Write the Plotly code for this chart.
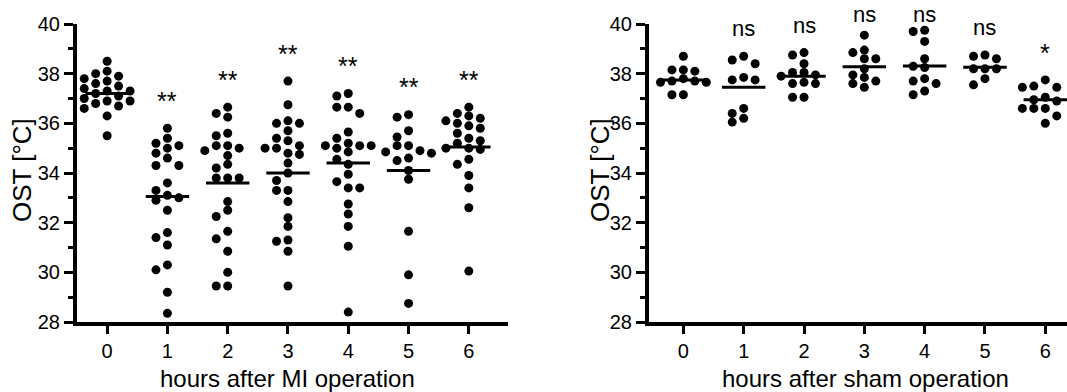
import plotly.graph_objects as go

hours = [0, 1, 2, 3, 4, 5, 6]
tick_labels = ["0", "1", "2", "3", "4", "5", "6"]

mi_0 = [38.5, 38.1, 38.0, 37.9, 37.8, 37.7, 37.6, 37.5, 37.4, 37.3, 37.3, 37.2, 37.2, 37.1, 37.0, 36.9, 36.9, 36.8, 36.7, 36.6, 36.6, 36.3, 35.5]
mi_1 = [35.8, 35.4, 35.2, 35.1, 35.0, 34.8, 34.6, 34.3, 34.3, 33.6, 33.3, 33.1, 33.0, 32.9, 32.5, 31.6, 31.4, 31.1, 30.3, 30.1, 29.2, 28.35]
mi_2 = [36.65, 36.4, 36.25, 35.6, 35.5, 35.1, 35.0, 35.1, 34.9, 34.7, 34.35, 34.2, 33.8, 33.8, 33.8, 32.85, 32.5, 32.25, 31.65, 31.35, 30.85, 30.0, 29.45, 29.45]
mi_3 = [37.7, 36.75, 36.1, 36.0, 36.0, 35.7, 35.4, 35.3, 35.1, 35.0, 35.0, 34.8, 34.75, 34.4, 34.0, 33.7, 33.3, 33.3, 32.85, 32.2, 31.85, 31.3, 31.25, 30.85, 29.45]
mi_4 = [37.2, 37.1, 36.65, 36.65, 36.4, 35.65, 35.4, 35.2, 35.1, 35.1, 35.0, 35.1, 34.85, 34.55, 34.35, 33.95, 33.65, 33.4, 33.4, 32.75, 32.35, 31.85, 31.05, 28.4]
mi_5 = [36.35, 36.25, 35.7, 35.45, 35.1, 35.1, 34.9, 34.85, 34.8, 34.6, 34.5, 34.1, 33.75, 31.65, 29.9, 28.75]
mi_6 = [36.65, 36.4, 36.3, 36.2, 36.1, 36.0, 35.9, 35.8, 35.6, 35.4, 35.3, 35.2, 35.0, 35.0, 34.95, 34.55, 34.35, 33.9, 33.4, 32.6, 30.05]
mi_median = [37.2, 33.05, 33.6, 34.0, 34.4, 34.1, 35.05]
mi_sig = ["", "**", "**", "**", "**", "**", "**"]

sham_0 = [38.7, 38.15, 38.1, 38.15, 37.8, 37.7, 37.65, 37.65, 37.7, 37.15, 37.15]
sham_1 = [38.7, 38.55, 38.4, 37.85, 37.75, 37.75, 36.6, 36.4, 36.2, 36.05]
sham_2 = [38.85, 38.75, 38.4, 38.05, 38.05, 37.95, 37.9, 37.6, 37.65, 37.6, 37.05, 37.05]
sham_3 = [39.55, 38.95, 38.85, 38.6, 38.6, 38.2, 37.95, 37.85, 37.7, 37.6, 37.45]
sham_4 = [39.75, 39.7, 39.3, 38.6, 38.3, 38.25, 37.8, 37.7, 37.6, 37.3, 37.15]
sham_5 = [38.75, 38.7, 38.6, 38.2, 38.2, 38.2, 37.8, 37.55]
sham_6 = [37.75, 37.5, 37.45, 37.45, 37.05, 36.95, 36.9, 36.6, 36.6, 36.6, 36.3, 36.3, 36.0]
sham_median = [37.75, 37.45, 37.9, 38.28, 38.31, 38.26, 36.95]
sham_sig = ["", "ns", "ns", "ns", "ns", "ns", "*"]

mi_groups = [mi_0, mi_1, mi_2, mi_3, mi_4, mi_5, mi_6]
sham_groups = [sham_0, sham_1, sham_2, sham_3, sham_4, sham_5, sham_6]

W, H = 1067, 392
Y0, Y1 = 28, 40
FONT = "Liberation Sans, Arial, sans-serif"
PX_X = 60.3      # px per x unit
PX_Y = 24.85     # px per degree
DIAM = 8.0
STEP = 0.19
LABEL_GAP = 1.1   # degrees above highest dot
LABEL_CAP = 40.4  # keep labels inside the page


def swarm(vals, center):
    placed = []
    xs = [None] * len(vals)
    order = sorted(range(len(vals)), key=lambda i: -vals[i])
    cands = [0]
    for k in range(1, 8):
        cands += [-k * STEP, k * STEP]
    for i in order:
        v = vals[i]
        for c in cands:
            ok = all(not (abs(c - o) * PX_X < DIAM and abs(v - w) * PX_Y < DIAM) for o, w in placed)
            if ok:
                placed.append((c, v))
                xs[i] = center + c
                break
    return xs


fig = go.Figure()

panels = [
    (mi_groups, mi_median, mi_sig, "x", "y"),
    (sham_groups, sham_median, sham_sig, "x2", "y2"),
]

for groups, med, sig, xa, ya in panels:
    for h, vals in zip(hours, groups):
        fig.add_trace(go.Scatter(
            x=swarm(vals, h), y=vals, mode="markers", xaxis=xa, yaxis=ya,
            marker=dict(color="black", size=DIAM + 1, line=dict(width=0)),
            cliponaxis=False, showlegend=False, hoverinfo="y"))
        fig.add_trace(go.Scatter(
            x=[h - 0.36, h + 0.36], y=[med[h], med[h]], mode="lines",
            xaxis=xa, yaxis=ya, line=dict(color="black", width=3),
            cliponaxis=False, showlegend=False, hoverinfo="skip"))
        if sig[h]:
            ly = min(max(vals) + LABEL_GAP, LABEL_CAP)
            fig.add_annotation(
                x=h, y=(ly - Y0) / (Y1 - Y0),
                xref=xa, yref=ya + " domain", text=sig[h],
                showarrow=False, xanchor="center", yanchor="middle",
                font=dict(family=FONT, size=25 if "*" in sig[h] else 22, color="black"))

common_y = dict(range=[Y0, Y1], tickvals=[28, 30, 32, 34, 36, 38, 40],
                ticks="outside", ticklen=9, tickwidth=3, tickcolor="black",
                showline=True, linewidth=4, linecolor="black",
                showgrid=False, zeroline=False, automargin=False,
                tickfont=dict(family=FONT, size=20, color="black"),
                minor=dict(tickvals=[29, 31, 33, 35, 37, 39], ticks="outside",
                           ticklen=5, tickwidth=3, tickcolor="black"))
common_x = dict(tickvals=hours, ticktext=tick_labels,
                ticks="outside", ticklen=8, tickwidth=3, tickcolor="black",
                showline=True, linewidth=4, linecolor="black",
                showgrid=False, zeroline=False, automargin=False,
                tickfont=dict(family=FONT, size=20, color="black"))

fig.update_layout(
    width=W, height=H, margin=dict(l=0, r=0, t=0, b=0, pad=0),
    paper_bgcolor="white", plot_bgcolor="white",
    xaxis=dict(domain=[77 / W, 508 / W], range=[-0.5, 6.65], anchor="y", **common_x),
    yaxis=dict(domain=[(H - 322) / H, (H - 24) / H], anchor="x", **common_y),
    xaxis2=dict(domain=[649 / W, 1.0], range=[-0.57, 6.36], anchor="y2", **common_x),
    yaxis2=dict(domain=[(H - 322) / H, (H - 24) / H], anchor="x2", **common_y),
)

for xc, txt in [(22, "OST [°C]"), (600, "OST [°C]")]:
    fig.add_annotation(x=xc / W, y=(H - 170) / H, xref="paper", yref="paper",
                       text=txt, textangle=-90, showarrow=False,
                       xanchor="center", yanchor="middle",
                       font=dict(family=FONT, size=26, color="black"))
for xc, txt in [(287, "hours after MI operation"), (865, "hours after sham operation")]:
    fig.add_annotation(x=xc / W, y=(H - 378) / H, xref="paper", yref="paper",
                       text=txt, showarrow=False,
                       xanchor="center", yanchor="middle",
                       font=dict(family=FONT, size=24, color="black"))

fig.write_html("out.html")
